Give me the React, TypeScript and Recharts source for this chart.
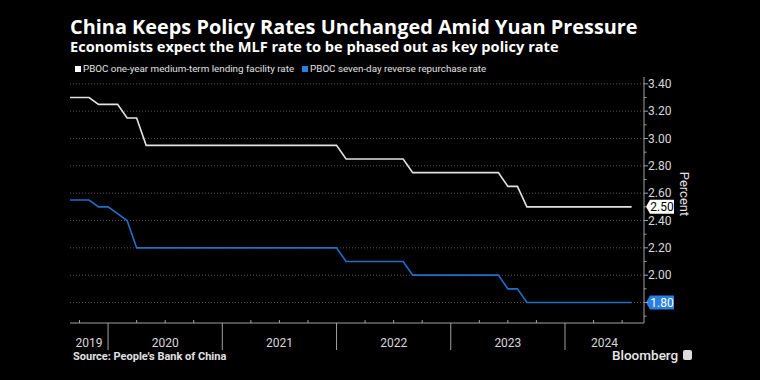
import { LineChart, Line, XAxis, YAxis, ReferenceLine, ReferenceDot } from 'recharts';

// monthly readings, Aug 2019 - Jul 2024 (percent)
const months = [
  'Aug 2019', 'Sep 2019', 'Oct 2019', 'Nov 2019', 'Dec 2019',
  'Jan 2020', 'Feb 2020', 'Mar 2020', 'Apr 2020', 'May 2020', 'Jun 2020', 'Jul 2020', 'Aug 2020', 'Sep 2020', 'Oct 2020', 'Nov 2020', 'Dec 2020',
  'Jan 2021', 'Feb 2021', 'Mar 2021', 'Apr 2021', 'May 2021', 'Jun 2021', 'Jul 2021', 'Aug 2021', 'Sep 2021', 'Oct 2021', 'Nov 2021', 'Dec 2021',
  'Jan 2022', 'Feb 2022', 'Mar 2022', 'Apr 2022', 'May 2022', 'Jun 2022', 'Jul 2022', 'Aug 2022', 'Sep 2022', 'Oct 2022', 'Nov 2022', 'Dec 2022',
  'Jan 2023', 'Feb 2023', 'Mar 2023', 'Apr 2023', 'May 2023', 'Jun 2023', 'Jul 2023', 'Aug 2023', 'Sep 2023', 'Oct 2023', 'Nov 2023', 'Dec 2023',
  'Jan 2024', 'Feb 2024', 'Mar 2024', 'Apr 2024', 'May 2024', 'Jun 2024', 'Jul 2024',
];

const mlfRate = [
  3.3, 3.3, 3.3, 3.25, 3.25,
  3.25, 3.15, 3.15, 2.95, 2.95, 2.95, 2.95, 2.95, 2.95, 2.95, 2.95, 2.95,
  2.95, 2.95, 2.95, 2.95, 2.95, 2.95, 2.95, 2.95, 2.95, 2.95, 2.95, 2.95,
  2.85, 2.85, 2.85, 2.85, 2.85, 2.85, 2.85, 2.75, 2.75, 2.75, 2.75, 2.75,
  2.75, 2.75, 2.75, 2.75, 2.75, 2.65, 2.65, 2.5, 2.5, 2.5, 2.5, 2.5,
  2.5, 2.5, 2.5, 2.5, 2.5, 2.5, 2.5,
];

const repoRate = [
  2.55, 2.55, 2.55, 2.5, 2.5,
  2.45, 2.4, 2.2, 2.2, 2.2, 2.2, 2.2, 2.2, 2.2, 2.2, 2.2, 2.2,
  2.2, 2.2, 2.2, 2.2, 2.2, 2.2, 2.2, 2.2, 2.2, 2.2, 2.2, 2.2,
  2.1, 2.1, 2.1, 2.1, 2.1, 2.1, 2.1, 2.0, 2.0, 2.0, 2.0, 2.0,
  2.0, 2.0, 2.0, 2.0, 2.0, 1.9, 1.9, 1.8, 1.8, 1.8, 1.8, 1.8,
  1.8, 1.8, 1.8, 1.8, 1.8, 1.8, 1.8,
];

// x positions are month indexes; quarter ends get small ticks, year ends long separators
const quarterTicks = [1, 4, 7, 10, 13, 16, 19, 22, 25, 28, 31, 34, 37, 40, 43, 46, 49, 52, 55, 58];
const yearEdges = [4, 16, 28, 40, 52];
const yearLabels = ['2019', '2020', '2021', '2022', '2023', '2024'];
const yearLabelPos = [2, 10, 22, 34, 46, 56.15];

const yMajor = [1.8, 2.0, 2.2, 2.4, 2.6, 2.8, 3.0, 3.2, 3.4];
const yMinor = [1.7, 1.9, 2.1, 2.3, 2.5, 2.7, 2.9, 3.1, 3.3];

const data = months.map((m, i) => ({ i, month: m, mlf: mlfRate[i], repo: repoRate[i] }));

const lastMlf = mlfRate[mlfRate.length - 1];
const lastRepo = repoRate[repoRate.length - 1];

const xTicks = Array.from(new Set([...quarterTicks, ...yearLabelPos])).sort((a, b) => a - b);
const yTicks = [...yMajor, ...yMinor].sort((a, b) => a - b);

const WHITE = '#e2e2e2';
const BLUE = '#1f6fcb';
const AXIS = '#a0a0a0';
const FONT = 'Roboto, "Liberation Sans", sans-serif';
const HEAD_FONT = '"Open Sans", Roboto, sans-serif';

const same = (a: number, b: number) => Math.abs(a - b) < 1e-6;

const renderXTick = (props: any) => {
  const { x, y, payload } = props;
  const v = payload.value;
  const labelIdx = yearLabelPos.indexOf(v);
  return (
    <g>
      {yearEdges.includes(v) && <line x1={x} y1={y} x2={x} y2={y + 27} stroke={AXIS} strokeWidth={1} />}
      {quarterTicks.includes(v) && !yearEdges.includes(v) && (
        <line x1={x} y1={y - 3} x2={x} y2={y} stroke={AXIS} strokeWidth={1} />
      )}
      {labelIdx >= 0 && (
        <text x={x} y={y + 24} textAnchor="middle" fill="#d8d8d8" fontSize={12} fontFamily={FONT}>
          {yearLabels[labelIdx]}
        </text>
      )}
    </g>
  );
};

const renderYTick = (props: any) => {
  const { x, y, payload } = props;
  const major = yMajor.some((m) => same(m, payload.value));
  // the end-value tags sit over the axis labels
  const covered = same(payload.value, lastMlf) || same(payload.value, lastRepo);
  return (
    <g>
      <line x1={x} y1={y} x2={x + (major ? 4 : 2.5)} y2={y} stroke={AXIS} strokeWidth={1} />
      {major && !covered && (
        <text x={x + 4} y={y + 4} fill="#d8d8d8" fontSize={12} fontFamily={FONT}>
          {payload.value.toFixed(2)}
        </text>
      )}
    </g>
  );
};

const endTag = (value: number, bg: string, fg: string) => (props: any) => {
  const { cx, cy } = props;
  const x0 = cx + 2;
  return (
    <g>
      <polygon
        points={`${x0},${cy} ${x0 + 4},${cy - 7} ${x0 + 28},${cy - 7} ${x0 + 28},${cy + 7} ${x0 + 4},${cy + 7}`}
        fill={bg}
      />
      <text x={x0 + 16} y={cy + 4.5} textAnchor="middle" fill={fg} fontSize={12} fontFamily={FONT}>
        {value.toFixed(2)}
      </text>
    </g>
  );
};

const legendItems = [
  { name: 'PBOC one-year medium-term lending facility rate', color: '#ffffff' },
  { name: 'PBOC seven-day reverse repurchase rate', color: '#2a7fe0' },
];

export default function App() {
  return (
    <div
      style={{
        position: 'absolute',
        left: 0,
        top: 0,
        width: 760,
        height: 380,
        background: '#000',
        overflow: 'hidden',
        fontFamily: FONT,
        color: '#fff',
      }}
    >
      <div style={{ position: 'absolute', left: 70, top: 17.3, fontFamily: HEAD_FONT, fontSize: 19.9, fontWeight: 700, lineHeight: '20px', whiteSpace: 'nowrap' }}>
        China Keeps Policy Rates Unchanged Amid Yuan Pressure
      </div>
      <div style={{ position: 'absolute', left: 70, top: 38, fontFamily: HEAD_FONT, fontSize: 14.6, fontWeight: 700, lineHeight: '16px', whiteSpace: 'nowrap' }}>
        Economists expect the MLF rate to be phased out as key policy rate
      </div>
      <div style={{ position: 'absolute', left: 75, top: 62, fontSize: 9.8, lineHeight: '13px', display: 'flex', gap: 8, color: '#e0e0e0', whiteSpace: 'nowrap' }}>
        {legendItems.map((it) => (
          <span key={it.name} style={{ display: 'flex', alignItems: 'center', gap: 2 }}>
            <span style={{ width: 6, height: 6, background: it.color, display: 'inline-block' }} />
            {it.name}
          </span>
        ))}
      </div>

      <LineChart
        width={760}
        height={380}
        data={data}
        margin={{ top: 77, right: 56, bottom: 27, left: 70 }}
        style={{ position: 'absolute', left: 0, top: 0 }}
      >
        {yMajor.map((v) => (
          <ReferenceLine key={v} y={v} stroke="#555" strokeDasharray="1 2" strokeWidth={1} />
        ))}
        <XAxis
          type="number"
          dataKey="i"
          domain={[0, 60.3]}
          ticks={xTicks}
          interval={0}
          tickSize={0}
          tickMargin={0}
          tickLine={false}
          axisLine={{ stroke: AXIS }}
          tick={renderXTick}
          height={30}
        />
        <YAxis
          orientation="right"
          domain={[1.65, 3.45]}
          ticks={yTicks}
          interval={0}
          tickSize={0}
          tickMargin={0}
          tickLine={false}
          axisLine={{ stroke: AXIS }}
          tick={renderYTick}
          width={60}
        />
        <Line type="linear" dataKey="mlf" stroke={WHITE} strokeWidth={1.6} dot={false} isAnimationActive={false} />
        <Line type="linear" dataKey="repo" stroke={BLUE} strokeWidth={1.6} dot={false} isAnimationActive={false} />
        <ReferenceDot x={60.3} y={lastMlf} r={0} shape={endTag(lastMlf, '#ffffff', '#000')} />
        <ReferenceDot x={60.3} y={lastRepo} r={0} shape={endTag(lastRepo, '#2a7fe0', '#fff')} />
      </LineChart>

      <div style={{ position: 'absolute', left: 684, top: 194, transform: 'translate(-50%, -50%) rotate(90deg)', fontSize: 13, color: '#e0e0e0', whiteSpace: 'nowrap' }}>
        Percent
      </div>
      <div style={{ position: 'absolute', left: 73, top: 350, fontSize: 11, fontWeight: 700, color: '#e0e0e0', lineHeight: '13px' }}>
        Source: People's Bank of China
      </div>
      <div style={{ position: 'absolute', left: 612, top: 347, fontSize: 13.5, fontWeight: 500, color: '#e8e8e8', lineHeight: '16px', display: 'flex', alignItems: 'center', gap: 5 }}>
        Bloomberg
        <span style={{ width: 9, height: 10, background: '#ddd', borderRadius: 2, display: 'inline-block' }} />
      </div>
    </div>
  );
}
